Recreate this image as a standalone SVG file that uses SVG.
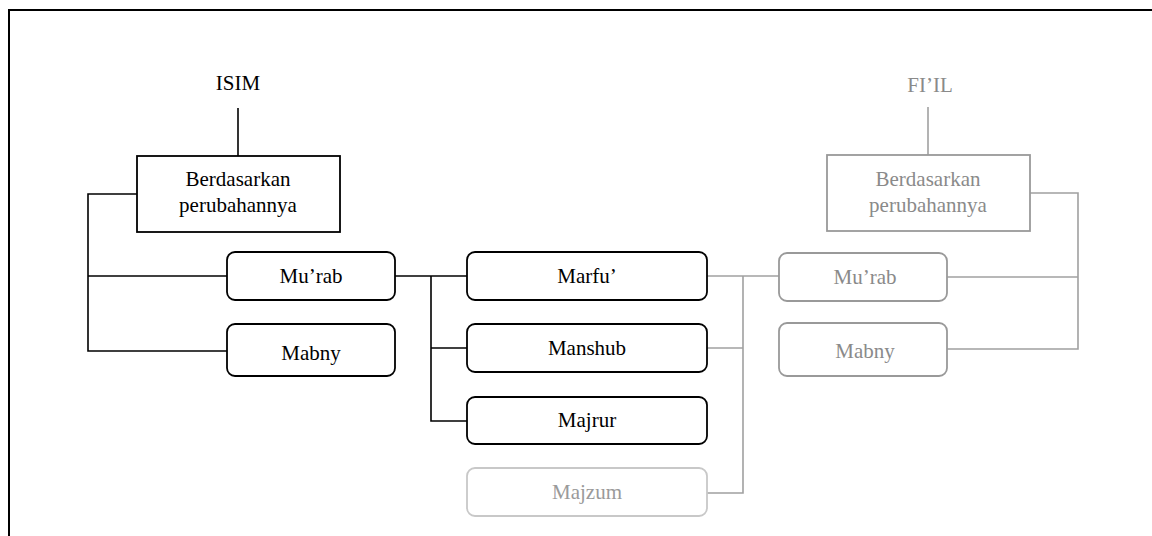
<svg xmlns="http://www.w3.org/2000/svg" width="1152" height="536" viewBox="0 0 1152 536">
<style>
text{font-family:"Liberation Serif","Times New Roman",serif;font-size:21px;text-anchor:middle}
.k{fill:#000}
.g{fill:#8a8a8a}
.lg{fill:#9a9a9a}
.bk{fill:#fff;stroke:#000;stroke-width:1.8}
.bg{fill:#fff;stroke:#999;stroke-width:1.8}
.bl{fill:#fff;stroke:#c8c8c8;stroke-width:1.8}
.ck{fill:none;stroke:#000;stroke-width:1.6}
.cg{fill:none;stroke:#a0a0a0;stroke-width:1.6}
</style>
<rect width="1152" height="536" fill="#fff"/>
<path d="M9,536 V10 H1152" fill="none" stroke="#000" stroke-width="2"/>
<g id="connectors">
<path class="ck" d="M238,108 V156"/>
<path class="ck" d="M137,194 H88 V351 H227"/>
<path class="ck" d="M88,276 H227"/>
<path class="ck" d="M395,276 H467"/>
<path class="ck" d="M431,276 V421 H467"/>
<path class="ck" d="M431,348 H467"/>
<path class="cg" d="M707,276 H779"/>
<path class="cg" d="M743,276 V493 H707"/>
<path class="cg" d="M707,348 H743"/>
<path class="cg" d="M928,107 V155"/>
<path class="cg" d="M1030,193 H1078 V349 H947"/>
<path class="cg" d="M947,277 H1078"/>
</g>
<g id="isim"><text class="k" x="238" y="90">ISIM</text></g>
<g id="isim-berdasarkan">
<rect class="bk" x="137" y="156" width="203" height="76"/>
<text class="k" x="238" y="186">Berdasarkan</text>
<text class="k" x="238" y="212">perubahannya</text>
</g>
<g id="isim-murab"><rect class="bk" x="227" y="252" width="168" height="48" rx="8"/><text class="k" x="311" y="283">Mu’rab</text></g>
<g id="isim-mabny"><rect class="bk" x="227" y="324" width="168" height="52" rx="8"/><text class="k" x="311" y="360">Mabny</text></g>
<g id="marfu"><rect class="bk" x="467" y="252" width="240" height="48" rx="8"/><text class="k" x="587" y="283">Marfu’</text></g>
<g id="manshub"><rect class="bk" x="467" y="324" width="240" height="48" rx="8"/><text class="k" x="587" y="355">Manshub</text></g>
<g id="majrur"><rect class="bk" x="467" y="397" width="240" height="47" rx="8"/><text class="k" x="587" y="427">Majrur</text></g>
<g id="majzum"><rect class="bl" x="467" y="468" width="240" height="48" rx="8"/><text class="lg" x="587" y="499">Majzum</text></g>
<g id="fiil"><text class="g" x="930" y="92">FI’IL</text></g>
<g id="fiil-berdasarkan">
<rect class="bg" x="827" y="155" width="203" height="76"/>
<text class="g" x="928" y="186">Berdasarkan</text>
<text class="g" x="928" y="212">perubahannya</text>
</g>
<g id="fiil-murab"><rect class="bg" x="779" y="253" width="168" height="48" rx="8"/><text class="g" x="865" y="284">Mu’rab</text></g>
<g id="fiil-mabny"><rect class="bg" x="779" y="323" width="168" height="53" rx="8"/><text class="g" x="865" y="358">Mabny</text></g>
</svg>
